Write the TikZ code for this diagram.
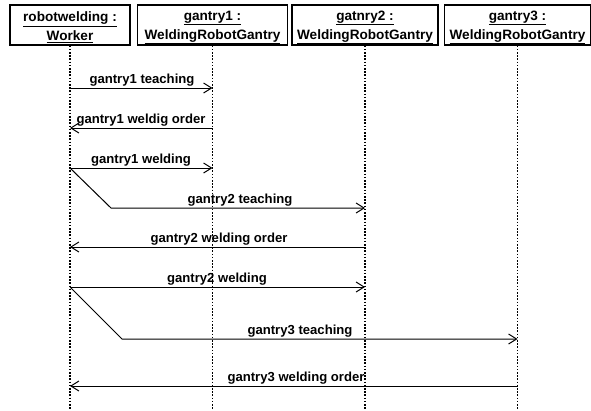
\documentclass[tikz,border=0pt]{standalone}
\usepackage{fontspec}
\setmainfont{Liberation Sans}
\usetikzlibrary{arrows.meta}
\begin{document}
\begin{tikzpicture}[x=1pt,y=-1pt,
  obj/.style={draw, line width=1.2pt, minimum height=40pt, inner sep=0pt},
  objtxt/.style={inner sep=0pt, align=center, font=\bfseries\fontsize{13.6}{19}\selectfont},
  life/.style={line width=1.2pt, dash pattern=on 1.6pt off 1.6pt},
  msg/.style={line width=1pt, -{Straight Barb[length=8pt,width=10pt,line width=1pt]}},
  lbl/.style={anchor=base, inner sep=0pt, font=\bfseries\fontsize{13.1}{16}\selectfont}]
\useasboundingbox (0,0) rectangle (591,410);
\node[obj, minimum width=120pt] (w)  at (70,25)    {};
\node[obj, minimum width=150pt] (g1) at (212.5,25) {};
\node[obj, minimum width=146pt] (g2) at (365,25)   {};
\node[obj, minimum width=146pt] (g3) at (517.5,25) {};
\node[objtxt] (wt)  at ([yshift=-2.5pt]w.center)  {\underline{robotwelding :}\\\underline{Worker}};
\node[objtxt] (g1t) at ([yshift=-2.5pt]g1.center) {\underline{gantry1 :}\\\underline{WeldingRobotGantry}};
\node[objtxt] (g2t) at ([yshift=-2.5pt]g2.center) {\underline{gatnry2 :}\\\underline{WeldingRobotGantry}};
\node[objtxt] (g3t) at ([yshift=-2.5pt]g3.center) {\underline{gantry3 :}\\\underline{WeldingRobotGantry}};
\coordinate (bot) at (0,410);
\foreach \n in {w,g1,g2,g3} \draw[life] (\n.south) -- (\n.south |- bot);
% messages
\draw[msg] (w.south |- 0,88) -- (g1.south |- 0,88);
\node[lbl] (l1) at (142,83) {gantry1 teaching};
\draw[msg] (g1.south |- 0,128) -- (w.south |- 0,128);
\node[lbl] (l2) at (141,123) {gantry1 weldig order};
\draw[msg] (w.south |- 0,168) -- (g1.south |- 0,168);
\node[lbl] (l3) at (141,163) {gantry1 welding};
\coordinate (k1) at (111,208);
\draw[msg] (w.south |- 0,168) -- (k1) -- (g2.south |- 0,208);
\node[lbl] (l4) at (240,203) {gantry2 teaching};
\draw[msg] (g2.south |- 0,247) -- (w.south |- 0,247);
\node[lbl] (l5) at (219,242) {gantry2 welding order};
\draw[msg] (w.south |- 0,287) -- (g2.south |- 0,287);
\node[lbl] (l6) at (217,282) {gantry2 welding};
\coordinate (k2) at (122,339);
\draw[msg] (w.south |- 0,287) -- (k2) -- (g3.south |- 0,339);
\node[lbl] (l7) at (300,334) {gantry3 teaching};
\draw[msg] (g3.south |- 0,386) -- (w.south |- 0,386);
\node[lbl] (l8) at (296,381) {gantry3 welding order};
\end{tikzpicture}
\end{document}
